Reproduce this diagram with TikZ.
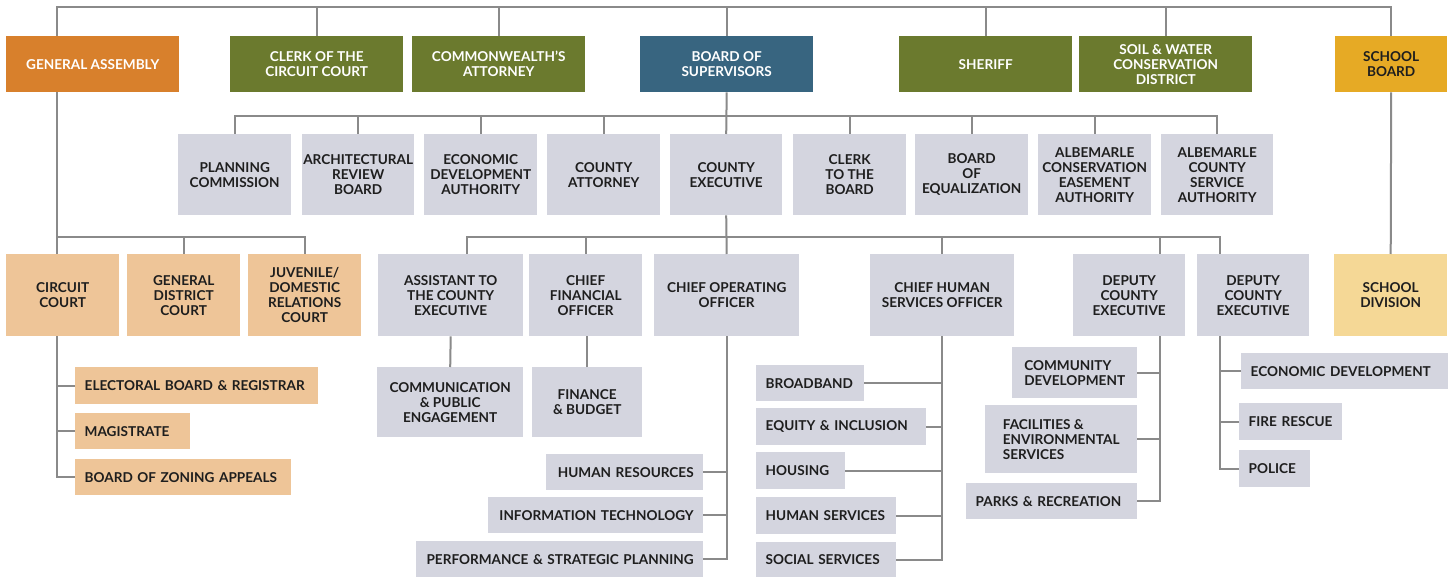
\documentclass[tikz,border=0pt]{standalone}
\usepackage{fontspec}
\setmainfont{Lato}
\definecolor{gaorange}{HTML}{D8802C}
\definecolor{olive}{HTML}{6B7A2E}
\definecolor{bosblue}{HTML}{386580}
\definecolor{gold}{HTML}{E6AA25}
\definecolor{unitgray}{HTML}{D4D5DF}
\definecolor{tan}{HTML}{EEC598}
\definecolor{paleGold}{HTML}{F5D896}
\definecolor{linegray}{HTML}{8A8A8A}
\definecolor{darktext}{HTML}{1E1E1E}
% box from (x1,y1) to (x2,y2), centred text
\newcommand\obox[7]{%
  \pgfmathsetmacro\obw{#5-#3}%
  \pgfmathsetmacro\obh{#6-#4}%
  \node[#2, minimum width=\obw pt, minimum height=\obh pt, anchor=north west] (#1) at (#3,#4) {#7};}
% single-line leaf box with text pushed to one side
\newcommand\lbox[8]{%
  \pgfmathsetmacro\obw{#5-#3}%
  \pgfmathsetmacro\obh{#6-#4}%
  \pgfmathsetmacro\otw{#5-#3-19}%
  \node[#2, minimum width=\obw pt, minimum height=\obh pt, text width=\otw pt, align=#7, anchor=north west] (#1) at (#3,#4) {\mbox{#8}};}
\begin{document}
\begin{tikzpicture}[x=1pt,y=-1pt,
  base/.style={inner sep=0pt, align=center, font=\bfseries\fontsize{13.6}{15}\selectfont},
  gabox/.style={base, fill=gaorange, text=white},
  olivebox/.style={base, fill=olive, text=white},
  bosbox/.style={base, fill=bosblue, text=white},
  goldbox/.style={base, fill=gold, text=darktext},
  unitbox/.style={base, fill=unitgray, text=darktext},
  courtbox/.style={base, fill=tan, text=darktext},
  divbox/.style={base, fill=paleGold, text=darktext},
  conn/.style={draw=linegray, line width=2pt}]
\fill[white] (0,0) rectangle (1453,577);

% elected bodies and offices
\obox{ga}{gabox}{6}{36}{179}{92}{GENERAL ASSEMBLY}
\obox{clerkcc}{olivebox}{230}{36}{403}{92}{CLERK OF THE\\CIRCUIT COURT}
\obox{cwa}{olivebox}{412}{36}{585}{92}{COMMONWEALTH'S\\ATTORNEY}
\obox{bos}{bosbox}{640}{36}{813}{92}{BOARD OF\\SUPERVISORS}
\obox{sheriff}{olivebox}{899}{36}{1072}{92}{SHERIFF}
\obox{soil}{olivebox}{1079}{36}{1252}{92}{SOIL \& WATER\\CONSERVATION\\DISTRICT}
\obox{sb}{goldbox}{1335}{36}{1447}{92}{SCHOOL\\BOARD}

% appointed by the board
\obox{pc}{unitbox}{178}{134}{291}{215}{PLANNING\\COMMISSION}
\obox{arb}{unitbox}{302}{134}{414}{215}{ARCHITECTURAL\\REVIEW\\BOARD}
\obox{eda}{unitbox}{424}{134}{537}{215}{ECONOMIC\\DEVELOPMENT\\AUTHORITY}
\obox{ca}{unitbox}{547}{134}{660}{215}{COUNTY\\ATTORNEY}
\obox{ce}{unitbox}{670}{134}{782}{215}{COUNTY\\EXECUTIVE}
\obox{ctb}{unitbox}{793}{134}{906}{215}{CLERK\\TO THE\\BOARD}
\obox{boe}{unitbox}{915}{134}{1028}{215}{BOARD\\OF\\EQUALIZATION}
\obox{acea}{unitbox}{1038}{134}{1151}{215}{ALBEMARLE\\CONSERVATION\\EASEMENT\\AUTHORITY}
\obox{acsa}{unitbox}{1161}{134}{1273}{215}{ALBEMARLE\\COUNTY\\SERVICE\\AUTHORITY}

% courts
\obox{cc}{courtbox}{6}{254}{119}{336}{CIRCUIT\\COURT}
\obox{gdc}{courtbox}{127}{254}{240}{336}{GENERAL\\DISTRICT\\COURT}
\obox{jdr}{courtbox}{248}{254}{361}{336}{JUVENILE/\\DOMESTIC\\RELATIONS\\COURT}
\lbox{ebr}{courtbox}{75}{367}{318}{404}{left}{ELECTORAL BOARD \& REGISTRAR}
\lbox{mag}{courtbox}{75}{413}{190}{449}{left}{MAGISTRATE}
\lbox{bza}{courtbox}{75}{459}{291}{495}{left}{BOARD OF ZONING APPEALS}

% county executive's office
\obox{ace}{unitbox}{378}{254}{523}{336}{ASSISTANT TO\\THE COUNTY\\EXECUTIVE}
\obox{cfo}{unitbox}{529}{254}{642}{336}{CHIEF\\FINANCIAL\\OFFICER}
\obox{coo}{unitbox}{654}{254}{799}{336}{CHIEF OPERATING\\OFFICER}
\obox{chso}{unitbox}{870}{254}{1014}{336}{CHIEF HUMAN\\SERVICES OFFICER}
\obox{dcea}{unitbox}{1073}{254}{1185}{336}{DEPUTY\\COUNTY\\EXECUTIVE}
\obox{dceb}{unitbox}{1197}{254}{1309}{336}{DEPUTY\\COUNTY\\EXECUTIVE}
\obox{sd}{divbox}{1334}{254}{1447}{336}{SCHOOL\\DIVISION}

% departments
\obox{cpe}{unitbox}{377}{367}{523}{437}{COMMUNICATION\\\& PUBLIC\\ENGAGEMENT}
\obox{fb}{unitbox}{532}{367}{642}{437}{FINANCE\\\& BUDGET}
\lbox{hr}{unitbox}{546}{454}{703}{490}{right}{HUMAN RESOURCES}
\lbox{it}{unitbox}{488}{497}{703}{533}{right}{INFORMATION TECHNOLOGY}
\lbox{psp}{unitbox}{416}{541}{703}{577}{right}{PERFORMANCE \& STRATEGIC PLANNING}
\lbox{bb}{unitbox}{756}{365}{864}{401}{left}{BROADBAND}
\lbox{ei}{unitbox}{756}{408}{926}{445}{left}{EQUITY \& INCLUSION}
\lbox{hou}{unitbox}{756}{452}{845}{489}{left}{HOUSING}
\lbox{hs}{unitbox}{756}{497}{896}{534}{left}{HUMAN SERVICES}
\lbox{ss}{unitbox}{756}{542}{896}{577}{left}{SOCIAL SERVICES}
\obox{cd}{unitbox,align=left}{1012}{347}{1137}{398}{COMMUNITY\\DEVELOPMENT}
\obox{fes}{unitbox,align=left}{985}{405}{1137}{473}{FACILITIES \&\\ENVIRONMENTAL\\SERVICES}
\lbox{pr}{unitbox}{966}{483}{1137}{519}{left}{PARKS \& RECREATION}
\lbox{ed}{unitbox}{1241}{353}{1448}{389}{left}{ECONOMIC DEVELOPMENT}
\lbox{fr}{unitbox}{1239}{403}{1342}{440}{left}{FIRE RESCUE}
\lbox{pol}{unitbox}{1239}{450}{1310}{487}{left}{POLICE}

% bus levels and off-centre drop lines
\coordinate (topbar) at (0,7);
\coordinate (boardbar) at (0,116);
\coordinate (lowbar) at (0,237);
\coordinate (gax) at (57,0);
\coordinate (acex) at (467,0);
\coordinate (dceax) at (1160,0);
\coordinate (dcebx) at (1220,0);

% top bar
\draw[conn] (ga.north -| gax) |- (topbar -| sb.north) -- (sb.north);
\draw[conn] (clerkcc.north) -- (clerkcc.north |- topbar);
\draw[conn] (cwa.north) -- (cwa.north |- topbar);
\draw[conn] (bos.north) -- (bos.north |- topbar);
\draw[conn] (sheriff.north) -- (sheriff.north |- topbar);
\draw[conn] (soil.north) -- (soil.north |- topbar);

% board appointments
\draw[conn] (bos.south) -- (ce.north);
\draw[conn] (pc.north) |- (boardbar -| acsa.north) -- (acsa.north);
\foreach \n in {arb,eda,ca,ctb,boe,acea}
  \draw[conn] (\n.north) -- (\n.north |- boardbar);

% courts
\draw[conn] (ga.south -| gax) -- (cc.north -| gax);
\draw[conn] (lowbar -| gax) -| (jdr.north);
\draw[conn] (gdc.north) -- (gdc.north |- lowbar);
\draw[conn] (cc.south -| gax) |- (bza.west);
\draw[conn] (ebr.west) -- (ebr.west -| gax);
\draw[conn] (mag.west) -- (mag.west -| gax);

% county executive
\draw[conn] (ce.south) -- (coo.north);
\draw[conn] (ace.north -| acex) |- (lowbar -| dcebx) -- (dceb.north -| dcebx);
\draw[conn] (cfo.north) -- (cfo.north |- lowbar);
\draw[conn] (chso.north) -- (chso.north |- lowbar);
\draw[conn] (dcea.north -| dceax) -- (lowbar -| dceax);
\draw[conn] (ace.south) -- (cpe.north);
\draw[conn] (fb.north) -- (fb.north |- cfo.south);

% chief operating officer
\draw[conn] (coo.south) |- (psp.east);
\draw[conn] (hr.east) -- (hr.east -| coo.south);
\draw[conn] (it.east) -- (it.east -| coo.south);

% chief human services officer
\draw[conn] (chso.south) |- (ss.east);
\foreach \n in {bb,ei,hou,hs}
  \draw[conn] (\n.east) -- (\n.east -| chso.south);

% deputy county executives
\draw[conn] (dcea.south -| dceax) |- (pr.east);
\draw[conn] (cd.east) -- (cd.east -| dceax);
\draw[conn] (fes.east) -- (fes.east -| dceax);
\draw[conn] (dceb.south -| dcebx) |- (pol.west);
\draw[conn] (ed.west) -- (ed.west -| dcebx);
\draw[conn] (fr.west) -- (fr.west -| dcebx);

% school board
\draw[conn] (sb.south) -- (sd.north);
\end{tikzpicture}
\end{document}
